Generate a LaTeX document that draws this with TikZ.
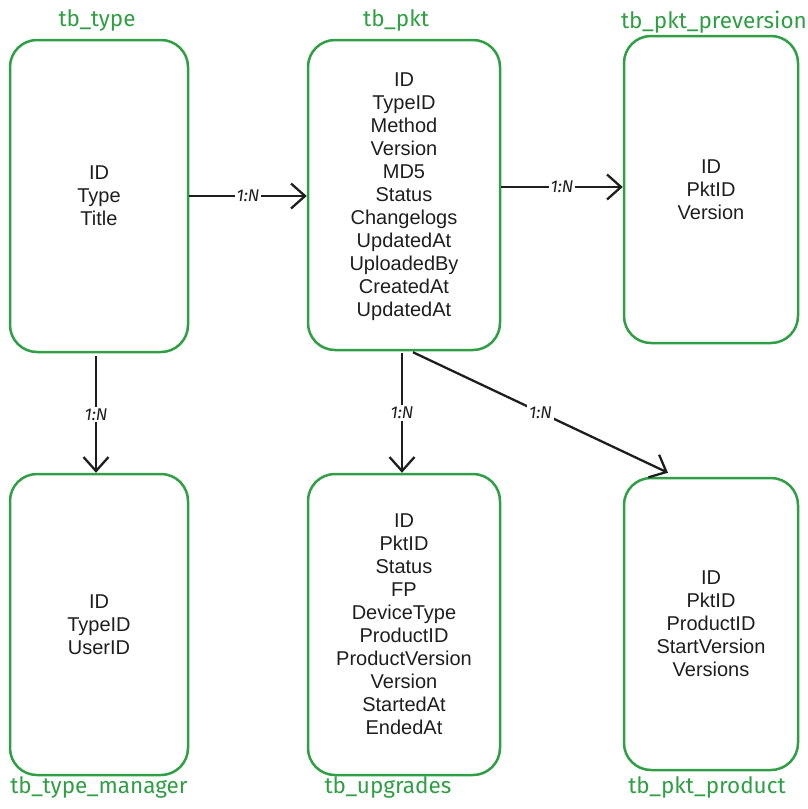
\documentclass[tikz,border=0pt]{standalone}
\usepackage{fontspec}
\setmainfont{Liberation Sans}
\newfontfamily\handfont{Fira Sans}
\usetikzlibrary{arrows.meta}
\definecolor{tbgreen}{HTML}{2F9E44}
\definecolor{inkblack}{HTML}{1E1E1E}
\begin{document}
\begin{tikzpicture}[x=1pt,y=-1pt,
  table/.style={draw=tbgreen, line width=2.5pt, rounded corners=27pt, align=center,
    font=\fontsize{20}{23}\selectfont, text=inkblack, inner sep=0pt},
  tname/.style={text=tbgreen, font=\handfont\fontsize{22.5}{26}\selectfont, inner sep=1pt},
  rel/.style={draw=inkblack, line width=2.3pt, -{Straight Barb[length=14pt,width=25pt,line width=2.3pt]}},
  card/.style={fill=white, text=inkblack, font=\handfont\itshape\fontsize{17}{19}\selectfont, inner sep=2pt}]
\useasboundingbox (0,0) rectangle (808,809);

% tables
\node[table, minimum width=178pt, minimum height=312pt] (type) at (99,196)
  {ID\\Type\\Title};
\node[table, minimum width=192pt, minimum height=310pt, text depth=0pt] (pkt) at (404,195)
  {ID\\TypeID\\Method\\Version\\MD5\\Status\\Changelogs\\UpdatedAt\\UploadedBy\\CreatedAt\\UpdatedAt};
\node[table, minimum width=174pt, minimum height=307pt] (pre) at (711,189.5)
  {ID\\PktID\\Version};
\node[table, minimum width=178pt, minimum height=301pt] (mgr) at (99,624.5)
  {ID\\TypeID\\UserID};
\node[table, minimum width=192pt, minimum height=301pt] (upg) at (404,624.5)
  {ID\\PktID\\Status\\FP\\DeviceType\\ProductID\\ProductVersion\\Version\\StartedAt\\EndedAt};
\node[table, minimum width=174pt, minimum height=292pt] (prod) at (711,624)
  {ID\\PktID\\ProductID\\StartVersion\\Versions};

% table names
\node[tname] (ntype) at (97,20) {tb\_type};
\node[tname] (npkt) at (396,20) {tb\_pkt};
\node[tname] (npre) at (714,22) {tb\_pkt\_preversion};
\node[tname] (nmgr) at (99,787) {tb\_type\_manager};
\node[tname] (nupg) at (388,787) {tb\_upgrades};
\node[tname] (nprod) at (707,787) {tb\_pkt\_product};

% relations
\draw[rel] (type.east) -- (type.east -| pkt.west) node[card, pos=.5] {1:N};
\draw[rel] ([yshift=8pt]pkt.east) -- ([yshift=8pt]pkt.east -| pre.west) node[card, pos=.5] {1:N};
\draw[rel] ([xshift=-3pt,yshift=-3pt]type.south) -- ([xshift=-3pt]mgr.north) node[card, pos=.5] {1:N};
\draw[rel] ([xshift=-2pt,yshift=-2pt]pkt.south) -- ([xshift=-2pt]upg.north) node[card, pos=.5] {1:N};
\draw[rel] ([xshift=9pt,yshift=-1pt]pkt.south) -- ([xshift=-43pt,yshift=4pt]prod.north) node[card, pos=.5] {1:N};
\end{tikzpicture}
\end{document}
